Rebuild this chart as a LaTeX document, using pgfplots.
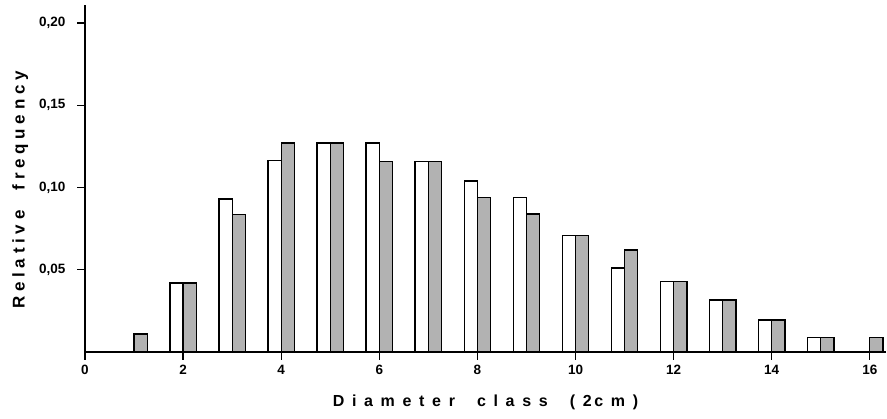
\documentclass[border=0pt]{standalone}
\usepackage{pgfplots}
\pgfplotsset{compat=1.18}
\usepackage{fontspec}
\setmainfont{Liberation Sans}
\newfontfamily\spacedfont[LetterSpace=48]{Liberation Sans}
\newfontfamily\yspacedfont[LetterSpace=28]{Liberation Sans}
\begin{document}
\begin{tikzpicture}[x=1pt,y=1pt]
\useasboundingbox (-85,-67) rectangle (802,352);
\begin{axis}[at={(0,0)}, anchor=south west, scale only axis,
  width=801pt, height=347pt,
  xmin=0, xmax=16.33, ymin=0, ymax=0.211,
  axis x line*=bottom, axis y line*=left,
  axis line style={line width=1.3pt},
  xtick={0,2,...,16}, ytick={0.05,0.1,0.15,0.2},
  tick align=outside, major tick length=8pt,
  tick style={line width=1.3pt, black},
  /pgf/number format/assume math mode=true,
  every tick label/.append style={font=\fontsize{13.5}{15}\selectfont\bfseries},
  y tick label style={/pgf/number format/.cd, fixed, fixed zerofill, precision=2, use comma, /tikz/.cd, xshift=-8pt},
  x tick label style={yshift=-2pt},
  xlabel={\spacedfont\bfseries\fontsize{16}{19}\selectfont Diameter\hspace{22pt}class\hspace{22pt}(2\,cm)},
  ylabel={\yspacedfont\bfseries\fontsize{17}{20}\selectfont Relative\hspace{20pt}frequency},
  xlabel style={at={(axis description cs:0.5,0)}, anchor=center, yshift=-50pt},
  ylabel style={at={(axis description cs:-0.081,0.467)}, anchor=center},
]
\addplot[ybar, bar width=0.27, bar shift=-0.135, fill=white, draw=black, line width=1.3pt] coordinates {
(2,0.042) (3,0.093) (4,0.1165) (5,0.127) (6,0.127) (7,0.116) (8,0.104) (9,0.094) (10,0.0707) (11,0.051) (12,0.0427) (13,0.0317) (14,0.0195) (15,0.009)};
\addplot[ybar, bar width=0.27, bar shift=0.135, fill=black!30, draw=black, line width=1.3pt] coordinates {
(1,0.011) (2,0.042) (3,0.0835) (4,0.127) (5,0.127) (6,0.116) (7,0.116) (8,0.094) (9,0.084) (10,0.0707) (11,0.062) (12,0.0427) (13,0.0317) (14,0.0195) (15,0.009) (16,0.009)};
\end{axis}
\end{tikzpicture}
\end{document}
